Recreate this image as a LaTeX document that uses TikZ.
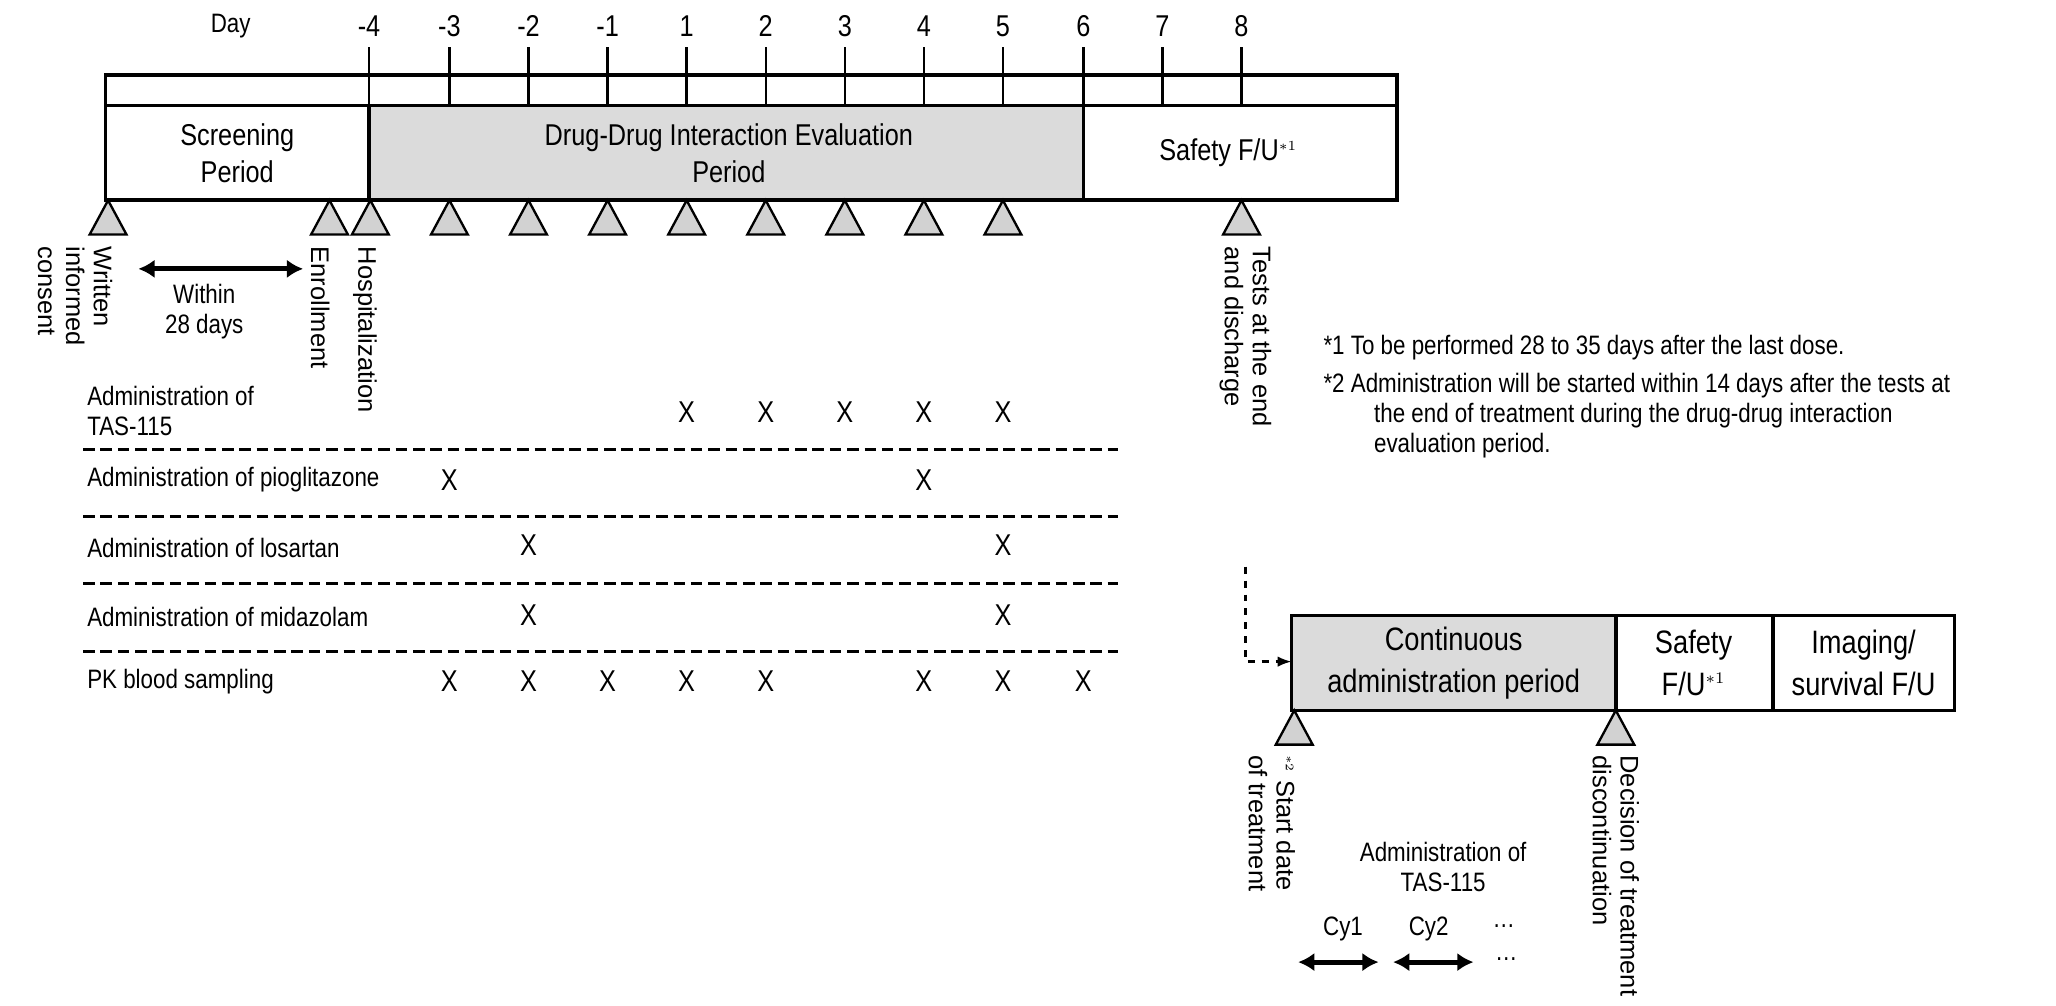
\documentclass[tikz,border=0pt]{standalone}
\usepackage{fontspec}
\setmainfont{Liberation Sans}[FakeStretch=0.84]
\newfontfamily\widefont{Liberation Sans}
\usetikzlibrary{arrows.meta,positioning}
\tikzset{
  box/.style={draw,line width=1.6pt},
  tri/.style={draw,fill=gray!35,line width=1pt},
  vlab/.style={rotate=-90,anchor=west,align=left,font=\widefont\fontsize{11}{12}\selectfont},
  lab/.style={font=\fontsize{11.5}{13}\selectfont},
  xmark/.style={font=\fontsize{13}{14}\selectfont},
  dbl/.style={{Latex[length=7pt,width=8pt]}-{Latex[length=7pt,width=8pt]},line width=2.2pt}
}
\begin{document}
\begin{tikzpicture}[x=0.02cm,y=-0.02cm]
\useasboundingbox (0,0) rectangle (1560,763);
% timeline
\fill[gray!28] (280,80) rectangle (822,152);
\draw[box] (80,57) rectangle (1060,152);
\draw[box] (80,80) -- (1060,80);
\draw[box] (280,80) -- (280,152) (822,80) -- (822,152);
\node[lab] (day) at (175,20) {Day};
\foreach \d/\x in {-4/280,-3/341,-2/401,-1/461,1/521,2/581,3/641,4/701,5/761,6/822,7/882,8/942} {
  \node[lab,font=\fontsize{13}{14}\selectfont] (D\x) at (\x,20) {\d};
  \draw[line width=1pt] (\x,36) -- (\x,80);
}
\node[lab,align=center,font=\fontsize{13}{16}\selectfont] (scr) at (180,116) {Screening\\Period};
\node[lab,align=center,font=\fontsize{13}{16}\selectfont] (ddi) at (553,116) {Drug-Drug Interaction Evaluation\\Period};
\node[lab,font=\fontsize{13}{16}\selectfont] (sfu) at (932,116) {Safety F/U$^{\scriptscriptstyle *1}$};
% markers
\foreach \x in {82,250,281,341,401,461,521,581,641,701,761,942}
  \draw[tri] (\x,152) -- (\x+14,178) -- (\x-14,178) -- cycle;
\node[vlab] (wic) at (57,181) {Written\\informed\\consent};
\node[vlab] (enr) at (243,181) {Enrollment};
\node[vlab] (hos) at (277,181) {Hospitalization};
\node[vlab] (tst) at (945,181) {Tests at the end\\and discharge};
\coordinate (w0) at (105,204);
\coordinate (w1) at (230,204);
\draw[dbl] (w0) -- (w1);
\node[lab,align=center,below=3pt of w0,xshift=1cm] (within) {Within\\28 days};
% rows
\node[lab,anchor=west,align=left] (r1) at (60,312) {Administration of\\TAS-115};
\node[lab,anchor=west] (r2) at (60,364) {Administration of pioglitazone};
\node[lab,anchor=west] (r3) at (60,416) {Administration of losartan};
\node[lab,anchor=west] (r4) at (60,468) {Administration of midazolam};
\node[lab,anchor=west] (r5) at (60,517) {PK blood sampling};
\foreach \y in {341,392,443,494}
  \draw[dashed,line width=1.3pt,dash pattern=on 5pt off 2.5pt] (63,\y) -- (848,\y);
\foreach \x in {521,581,641,701,761} \node[xmark] at (\x,313) {X};
\foreach \x in {341,701} \node[xmark] at (\x,364) {X};
\foreach \x in {401,761} \node[xmark] at (\x,414) {X};
\foreach \x in {401,761} \node[xmark] at (\x,467) {X};
\foreach \x in {341,401,461,521,581,701,761,822} \node[xmark] at (\x,517) {X};
% notes
\node[lab,anchor=west,align=left] (n1) at (998,264) {*1 To be performed 28 to 35 days after the last dose.};
\node[lab,anchor=north west,align=left] (n2) at (998,277) {*2 Administration will be started within 14 days after the tests at\\\hspace*{1.9em}the end of treatment during the drug-drug interaction\\\hspace*{1.9em}evaluation period.};
% continuous phase
\fill[gray!28] (980,467) rectangle (1226,539);
\draw[box] (980,467) rectangle (1483,539);
\draw[box] (1226,467) -- (1226,539) (1345,467) -- (1345,539);
\node[align=center,font=\fontsize{14}{18}\selectfont] (cap) at (1103,503) {Continuous\\administration period};
\node[align=center,font=\fontsize{14}{18}\selectfont] (sf2) at (1285,503) {Safety\\F/U$^{\scriptscriptstyle *1}$};
\node[align=center,font=\fontsize{14}{18}\selectfont] (img) at (1414,503) {Imaging/\\survival F/U};
\coordinate (c0) at (945,430);
\coordinate (c1) at (945,502);
\coordinate (c2) at (980,502);
\draw[dashed,line width=1pt,-{Latex[length=6pt]}] (c0) -- (c1) -- (c2);
\foreach \x in {982,1226}
  \draw[tri] (\x,539) -- (\x+14,565) -- (\x-14,565) -- cycle;
\node[vlab] (sdt) at (965,567) {$^{\scriptscriptstyle *2}$ Start date\\of treatment};
\node[vlab] (dis) at (1226,567) {Decision of treatment\\discontinuation};
\node[lab,align=center] (adm) at (1095,658) {Administration of\\TAS-115};
\node[lab] (cy1) at (1019,705) {Cy1};
\node[lab] (cy2) at (1084,705) {Cy2};
\node[lab] (dt1) at (1141,703) {\dots};
\node[lab] (dt2) at (1143,728) {\dots};
\coordinate (a0) at (985,730);
\coordinate (a1) at (1046,730);
\coordinate (a2) at (1057,730);
\coordinate (a3) at (1118,730);
\draw[dbl] (a0) -- (a1);
\draw[dbl] (a2) -- (a3);
\end{tikzpicture}
\end{document}
